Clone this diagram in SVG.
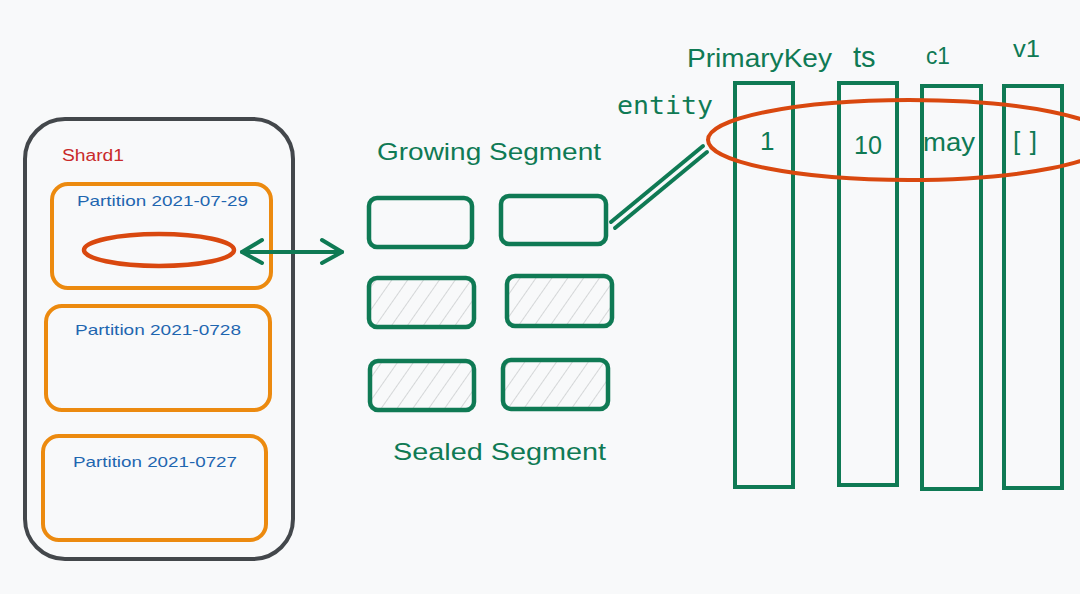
<svg xmlns="http://www.w3.org/2000/svg" width="1080" height="594" viewBox="0 0 1080 594">
<defs>
<pattern id="hatch" patternUnits="userSpaceOnUse" width="13" height="13" patternTransform="rotate(35)">
<line x1="0" y1="0" x2="0" y2="13" stroke="#c9cbcd" stroke-width="1.5"/>
</pattern>
<style>
.hand{font-family:"Liberation Sans","DejaVu Sans",sans-serif;}
.green{fill:#0f7a54;}
.seg{fill:none;stroke:#0f7a54;stroke-width:4.5;}
.segh{fill:url(#hatch);stroke:#0f7a54;stroke-width:4.5;}
.col{fill:none;stroke:#0f7a54;stroke-width:4;}
.part{fill:none;stroke:#ec8a0f;stroke-width:4;}
.ptxt{fill:#1f66b0;font-size:15px;}
.conn{fill:none;stroke:#0f7a54;stroke-width:4;stroke-linecap:round;stroke-linejoin:round;}
</style>
</defs>
<rect width="1080" height="594" fill="#f8f9fa"/>

<g id="shard1">
<rect x="25" y="119" width="268" height="440" rx="40" fill="none" stroke="#43474b" stroke-width="4"/>
<text class="hand" x="62" y="161" font-size="16" fill="#c92a2a" textLength="62" lengthAdjust="spacingAndGlyphs">Shard1</text>
</g>

<g id="partition-0729">
<rect class="part" x="52" y="184" width="219" height="104" rx="16"/>
<text class="hand ptxt" x="77" y="206" textLength="171" lengthAdjust="spacingAndGlyphs">Partition 2021-07-29</text>
<ellipse cx="159" cy="250" rx="75" ry="16" fill="none" stroke="#d9480f" stroke-width="4.5"/>
</g>

<g id="partition-0728">
<rect class="part" x="46" y="306" width="224" height="104" rx="16"/>
<text class="hand ptxt" x="75" y="335" textLength="166" lengthAdjust="spacingAndGlyphs">Partition 2021-0728</text>
</g>

<g id="partition-0727">
<rect class="part" x="43" y="436" width="223" height="104" rx="16"/>
<text class="hand ptxt" x="73" y="467" textLength="164" lengthAdjust="spacingAndGlyphs">Partition 2021-0727</text>
</g>

<g id="growing-label">
<text class="hand green" x="377" y="160" font-size="24" textLength="224" lengthAdjust="spacingAndGlyphs">Growing Segment</text>
</g>

<g id="seg-g1"><rect class="seg" x="369" y="198" width="103" height="49" rx="8"/></g>
<g id="seg-g2"><rect class="seg" x="501" y="196" width="105" height="48" rx="8"/></g>
<g id="seg-s1"><rect class="segh" x="369" y="278" width="105" height="49" rx="8"/></g>
<g id="seg-s2"><rect class="segh" x="507" y="276" width="105" height="50" rx="8"/></g>
<g id="seg-s3"><rect class="segh" x="370" y="361" width="104" height="49" rx="8"/></g>
<g id="seg-s4"><rect class="segh" x="503" y="360" width="105" height="49" rx="8"/></g>

<g id="sealed-label">
<text class="hand green" x="393" y="460" font-size="24" textLength="213" lengthAdjust="spacingAndGlyphs">Sealed Segment</text>
</g>

<g id="entity-label">
<text x="617" y="114" font-family="'DejaVu Sans Mono','Liberation Mono',monospace" font-size="25" class="green" textLength="96" lengthAdjust="spacingAndGlyphs">entity</text>
</g>

<g id="col-primarykey">
<rect class="col" x="735" y="83" width="58" height="404"/>
<text class="hand green" x="687" y="67" font-size="26" textLength="145" lengthAdjust="spacingAndGlyphs">PrimaryKey</text>
<text class="hand green" x="760" y="150" font-size="26">1</text>
</g>
<g id="col-ts">
<rect class="col" x="839" y="83" width="58" height="402"/>
<text class="hand green" x="853" y="67" font-size="29">ts</text>
<text class="hand green" x="854" y="154" font-size="26" textLength="28" lengthAdjust="spacingAndGlyphs">10</text>
</g>
<g id="col-c1">
<rect class="col" x="922" y="86" width="59" height="403"/>
<text class="hand green" x="926" y="64" font-size="24" textLength="24" lengthAdjust="spacingAndGlyphs">c1</text>
<text class="hand green" x="923" y="151" font-size="25" textLength="52" lengthAdjust="spacingAndGlyphs">may</text>
</g>
<g id="col-v1">
<rect class="col" x="1004" y="86" width="58" height="402"/>
<text class="hand green" x="1013" y="57" font-size="24" textLength="27" lengthAdjust="spacingAndGlyphs">v1</text>
<text class="hand green" x="1013" y="150" font-size="26" textLength="24" lengthAdjust="spacing">[]</text>
</g>

<g id="entity-ellipse">
<ellipse cx="909" cy="140" rx="201" ry="40" fill="none" stroke="#d9480f" stroke-width="4"/>
</g>

<g id="connectors">
<path class="conn" d="M242 252 L342 252"/>
<path class="conn" d="M262 240 L242 252 L262 263"/>
<path class="conn" d="M322 240 L342 252 L322 263"/>
<path class="conn" stroke-width="3" d="M611 222 L703 146"/>
<path class="conn" stroke-width="3" d="M615 228 L707 152"/>
</g>
</svg>
